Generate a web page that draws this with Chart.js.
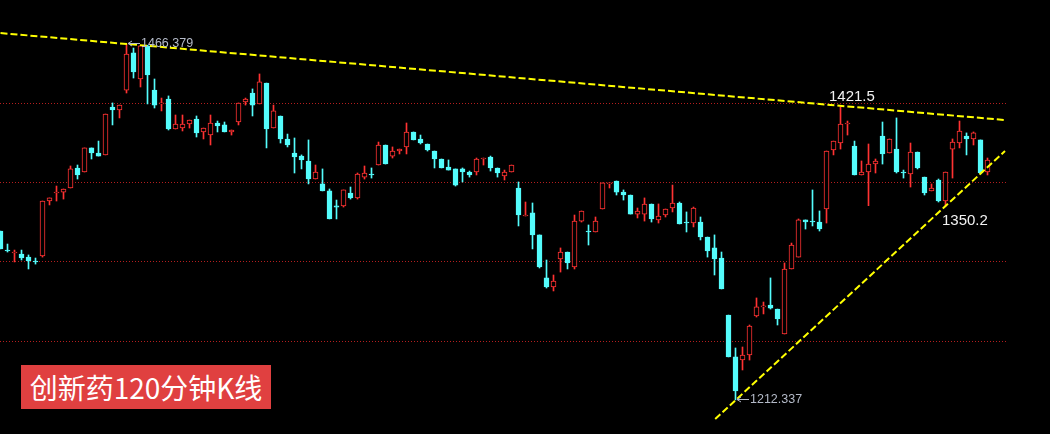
<!DOCTYPE html>
<html><head><meta charset="utf-8">
<script src="https://cdn.jsdelivr.net/npm/chart.js@4.4.1/dist/chart.umd.min.js"></script>
<style>
html,body{margin:0;padding:0;background:#000;overflow:hidden;}
#wrap{position:relative;width:1050px;height:434px;background:#000;}
#title{position:absolute;left:21px;top:365px;width:250px;height:44px;background:#e04040;color:#fff;
 font-family:"Noto Sans CJK SC","Noto Sans",sans-serif;font-size:28px;line-height:44px;text-align:center;white-space:nowrap;}
</style></head><body>
<div id="wrap"><canvas id="c" width="1050" height="434"></canvas><div id="title">创新药120分钟K线</div></div>
<script>
// ---- data (price values of each 120-minute candle) ----
const openP = [1332.9,1319.3,1317.2,1316.5,1314.3,1311.5,1315.1,1354.3,1360.0,1360.7,
1363.6,1377.9,1375.0,1392.2,1388.6,1387.2,1421.4,1419.3,1433.5,1460.0,
1441.4,1465.0,1433.5,1423.6,1427.1,1405.7,1406.4,1409.3,1412.8,1403.6,
1401.4,1410.0,1408.6,1403.6,1410.7,1425.0,1431.4,1423.6,1438.5,1406.4,
1415.0,1398.6,1388.6,1386.4,1382.9,1370.0,1366.5,1361.5,1350.8,1350.8,
1360.0,1356.5,1371.4,1373.6,1380.0,1394.3,1386.4,1390.0,1392.9,1403.6,
1398.6,1395.0,1390.0,1384.3,1378.6,1377.2,1377.2,1375.0,1375.0,1384.3,
1385.7,1377.9,1372.2,1375.0,1363.6,1343.6,1345.8,1330.1,1299.4,1292.9,
1312.9,1317.9,1307.2,1340.0,1332.9,1332.2,1348.6,1366.5,1368.6,1360.7,
1358.6,1345.0,1345.0,1352.2,1340.8,1344.3,1349.3,1352.9,1339.3,1338.6,
1339.3,1328.6,1320.8,1313.6,1272.9,1243.0,1240.8,1244.4,1272.2,1278.7,
1280.1,1277.2,1259.4,1305.8,1314.3,1340.8,1340.0,1339.3,1348.6,1390.7,
1395.7,1409.3,1393.6,1372.9,1375.0,1380.7,1400.7,1388.6,1391.4,1375.0,
1373.6,1389.3,1371.4,1361.5,1369.3,1354.3,1391.4,1395.7,1400.7,1398.6,
1397.9,1375.0];
const highP = [1332.9,1323.6,1319.3,1319.3,1315.8,1313.6,1354.3,1356.5,1365.0,1362.9,
1379.3,1380.0,1392.2,1392.2,1397.1,1416.4,1424.3,1422.8,1466.379,1463.5,
1465.5,1465.5,1441.4,1427.8,1429.3,1415.7,1415.7,1412.1,1415.0,1406.4,
1415.7,1411.4,1410.7,1405.0,1424.3,1427.8,1434.3,1445.0,1438.5,1422.8,
1415.0,1402.1,1399.3,1387.2,1397.9,1380.0,1377.2,1362.9,1355.0,1362.2,
1364.3,1374.3,1379.3,1377.9,1396.4,1394.3,1392.9,1391.4,1410.0,1403.6,
1401.4,1395.0,1390.0,1384.3,1383.6,1377.2,1377.9,1375.7,1385.0,1385.0,
1386.4,1377.9,1376.4,1380.0,1367.9,1353.6,1352.9,1330.1,1312.2,1301.5,
1320.8,1317.9,1344.3,1347.2,1337.2,1342.9,1367.2,1367.2,1368.6,1362.2,
1358.6,1349.3,1356.5,1352.2,1352.2,1348.6,1365.7,1353.6,1346.5,1350.0,
1342.9,1328.6,1330.1,1317.9,1272.9,1249.4,1250.1,1265.8,1285.1,1282.2,
1299.4,1277.2,1310.1,1324.3,1341.5,1340.8,1362.2,1347.2,1390.0,1397.1,
1421.5,1411.4,1397.1,1382.9,1395.0,1384.3,1410.7,1398.6,1413.6,1376.4,
1395.7,1389.3,1371.4,1366.5,1370.0,1375.0,1398.6,1411.4,1402.9,1403.6,
1397.9,1385.0];
const lowP = [1320.1,1317.9,1310.8,1312.2,1305.8,1309.3,1314.3,1351.5,1354.3,1355.7,
1363.6,1370.0,1375.0,1384.3,1386.4,1387.2,1408.6,1413.6,1431.4,1442.1,
1435.7,1423.6,1420.7,1418.6,1405.0,1405.7,1404.3,1406.4,1400.0,1398.6,
1394.3,1403.6,1403.6,1401.4,1408.6,1422.8,1415.0,1423.6,1392.2,1406.4,
1395.7,1392.9,1374.3,1377.2,1366.5,1370.0,1361.5,1341.5,1341.5,1350.0,
1355.7,1355.7,1370.0,1370.7,1380.0,1380.7,1385.0,1387.9,1387.9,1397.9,
1395.0,1390.0,1377.9,1377.9,1376.4,1365.0,1367.9,1371.4,1372.9,1380.0,
1375.7,1371.4,1369.3,1375.0,1336.5,1343.6,1320.1,1306.5,1292.2,1290.1,
1303.6,1305.8,1305.8,1339.3,1322.9,1332.2,1348.6,1363.6,1358.6,1355.0,
1345.0,1342.2,1340.0,1339.3,1338.6,1342.9,1346.5,1337.9,1332.2,1335.8,
1326.5,1314.3,1301.5,1291.5,1243.0,1212.337,1233.7,1240.8,1271.5,1273.7,
1277.2,1265.8,1259.4,1305.8,1314.3,1334.3,1336.5,1332.9,1338.6,1387.2,
1391.4,1401.4,1372.9,1372.9,1351.0,1374.3,1380.7,1388.6,1374.3,1370.7,
1364.3,1377.2,1358.6,1361.5,1353.6,1350.2,1370.7,1392.2,1387.2,1394.3,
1373.6,1372.9];
const closeP = [1320.1,1318.6,1317.9,1313.6,1311.5,1310.8,1354.3,1356.5,1360.7,1362.9,
1377.2,1372.9,1392.2,1388.6,1386.4,1416.4,1419.3,1422.8,1459.2,1446.4,
1465.0,1444.3,1422.8,1424.3,1405.7,1409.3,1409.3,1412.1,1402.9,1406.4,
1410.0,1407.9,1403.6,1405.0,1424.3,1427.1,1422.8,1439.3,1405.7,1418.6,
1398.6,1394.3,1385.7,1383.6,1370.0,1375.0,1361.5,1341.5,1350.0,1362.2,
1356.5,1373.6,1374.3,1372.9,1394.3,1380.7,1390.0,1391.4,1403.6,1397.9,
1395.7,1390.7,1384.3,1377.9,1376.4,1365.7,1375.0,1372.9,1384.3,1385.0,
1377.9,1374.3,1375.0,1380.0,1344.3,1344.3,1330.1,1307.2,1292.9,1297.2,
1317.9,1310.1,1340.0,1347.2,1332.2,1340.0,1367.2,1367.2,1360.7,1358.6,
1345.0,1347.2,1352.2,1341.5,1343.6,1348.6,1352.9,1337.9,1338.6,1349.3,
1328.6,1318.6,1312.9,1291.5,1243.0,1218.7,1244.4,1265.1,1278.7,1279.4,
1277.9,1270.1,1305.8,1322.9,1340.8,1339.3,1339.3,1334.3,1390.0,1397.1,
1409.3,1410.0,1372.9,1375.0,1380.7,1382.9,1387.9,1398.6,1375.0,1374.3,
1389.3,1377.9,1360.0,1363.6,1354.3,1375.0,1396.4,1404.3,1398.6,1402.9,
1374.3,1383.6];

// trend lines (candle index, price)
const upperTrendX = [0, 143.5];
const upperTrendY = [1474.2, 1412.1];
const lowerTrendX = [102.1, 143.5];
const lowerTrendY = [1198.7, 1390.0];

// horizontal reference levels
const gridLevels = [1424.0, 1367.6, 1310.8, 1254.3];

// marked extremes: [candle index, price, label]
const markMax = [18, 1466.379, '1466.379'];
const markMin = [105, 1212.337, '1212.337'];
const markHigh = [120, 1421.5, '1421.5'];
const markLow = [135, 1350.2, '1350.2'];

// ---- build ----
const UP = '#ff3232', DOWN = '#54fcfc';
const idx = openP.map((_, i) => i);
const isUp = idx.map(i => closeP[i] >= openP[i]);

const wickData = idx.map(i => ({x: i, y: [lowP[i], highP[i]]}));
const bodyData = idx.map(i => ({x: i, y: [openP[i], closeP[i]]}));

const annot = {
  id: 'annot',
  afterDatasetsDraw(chart) {
    const {ctx, scales: {x, y}} = chart;
    ctx.save();
    const small = (m) => {
      const px = Math.round(x.getPixelForValue(m[0])) + 1;
      const py = Math.round(y.getPixelForValue(m[1])) - 0.5;
      ctx.strokeStyle = '#b4bac8';
      ctx.lineWidth = 1;
      ctx.beginPath();
      ctx.moveTo(px, py); ctx.lineTo(px + 12, py);
      ctx.moveTo(px, py); ctx.lineTo(px + 4, py - 2.5);
      ctx.moveTo(px, py); ctx.lineTo(px + 4, py + 2.5);
      ctx.stroke();
      ctx.fillStyle = '#b4bac8';
      ctx.font = '12.5px "Liberation Sans", Arial, sans-serif';
      ctx.textBaseline = 'middle';
      ctx.textAlign = 'left';
      ctx.fillText(m[2], px + 13, py);
    };
    small(markMax);
    small(markMin);
    ctx.fillStyle = '#f2f2f2';
    ctx.font = '15px "Liberation Sans", Arial, sans-serif';
    ctx.textBaseline = 'alphabetic';
    ctx.textAlign = 'left';
    let cx = x.getPixelForValue(markHigh[0]), cy = y.getPixelForValue(markHigh[1]);
    ctx.fillText(markHigh[2], cx - 11.5, cy - 5.5);
    cx = x.getPixelForValue(markLow[0]); cy = y.getPixelForValue(markLow[1]);
    ctx.fillText(markLow[2], cx - 3.5, cy + 18);
    ctx.restore();
  }
};

new Chart(document.getElementById('c'), {
  type: 'bar',
  data: {
    datasets: [
      {
        type: 'line', data: upperTrendX.map((v, k) => ({x: v, y: upperTrendY[k]})),
        borderColor: '#ffff00', borderWidth: 2, borderDash: [7, 3], pointRadius: 0, fill: false, tension: 0, order: 0
      },
      {
        type: 'line', data: lowerTrendX.map((v, k) => ({x: v, y: lowerTrendY[k]})),
        borderColor: '#ffff00', borderWidth: 2, borderDash: [7, 3], pointRadius: 0, fill: false, tension: 0, order: 0
      },
      {
        data: bodyData, grouped: false, barThickness: 5, minBarLength: 1,
        backgroundColor: idx.map(i => isUp[i] ? '#000000' : DOWN),
        borderColor: idx.map(i => isUp[i] ? UP : DOWN),
        borderWidth: 1, borderSkipped: false, order: 1
      },
      {
        data: wickData, grouped: false, barThickness: 1, minBarLength: 1,
        backgroundColor: idx.map(i => isUp[i] ? UP : DOWN),
        borderWidth: 0, order: 2
      }
    ]
  },
  options: {
    responsive: false, animation: false, devicePixelRatio: 1,
    layout: {padding: {left: 0, right: 42, top: 0, bottom: 0}},
    plugins: {legend: {display: false}, tooltip: {enabled: false}, title: {display: false}},
    scales: {
      x: {type: 'linear', min: -0.0714286, max: 143.9285714, display: false, offset: false},
      y: {
        type: 'linear', min: 1188.0, max: 1497.79, position: 'left',
        ticks: {display: false},
        grid: {color: '#b41e1e', drawTicks: false, lineWidth: 1},
        border: {display: false, dash: [1, 2]},
        afterBuildTicks: (s) => { s.ticks = gridLevels.map(v => ({value: v})); },
        afterFit: (s) => { s.width = 0; }
      }
    }
  },
  plugins: [annot]
});
</script>
</body></html>
